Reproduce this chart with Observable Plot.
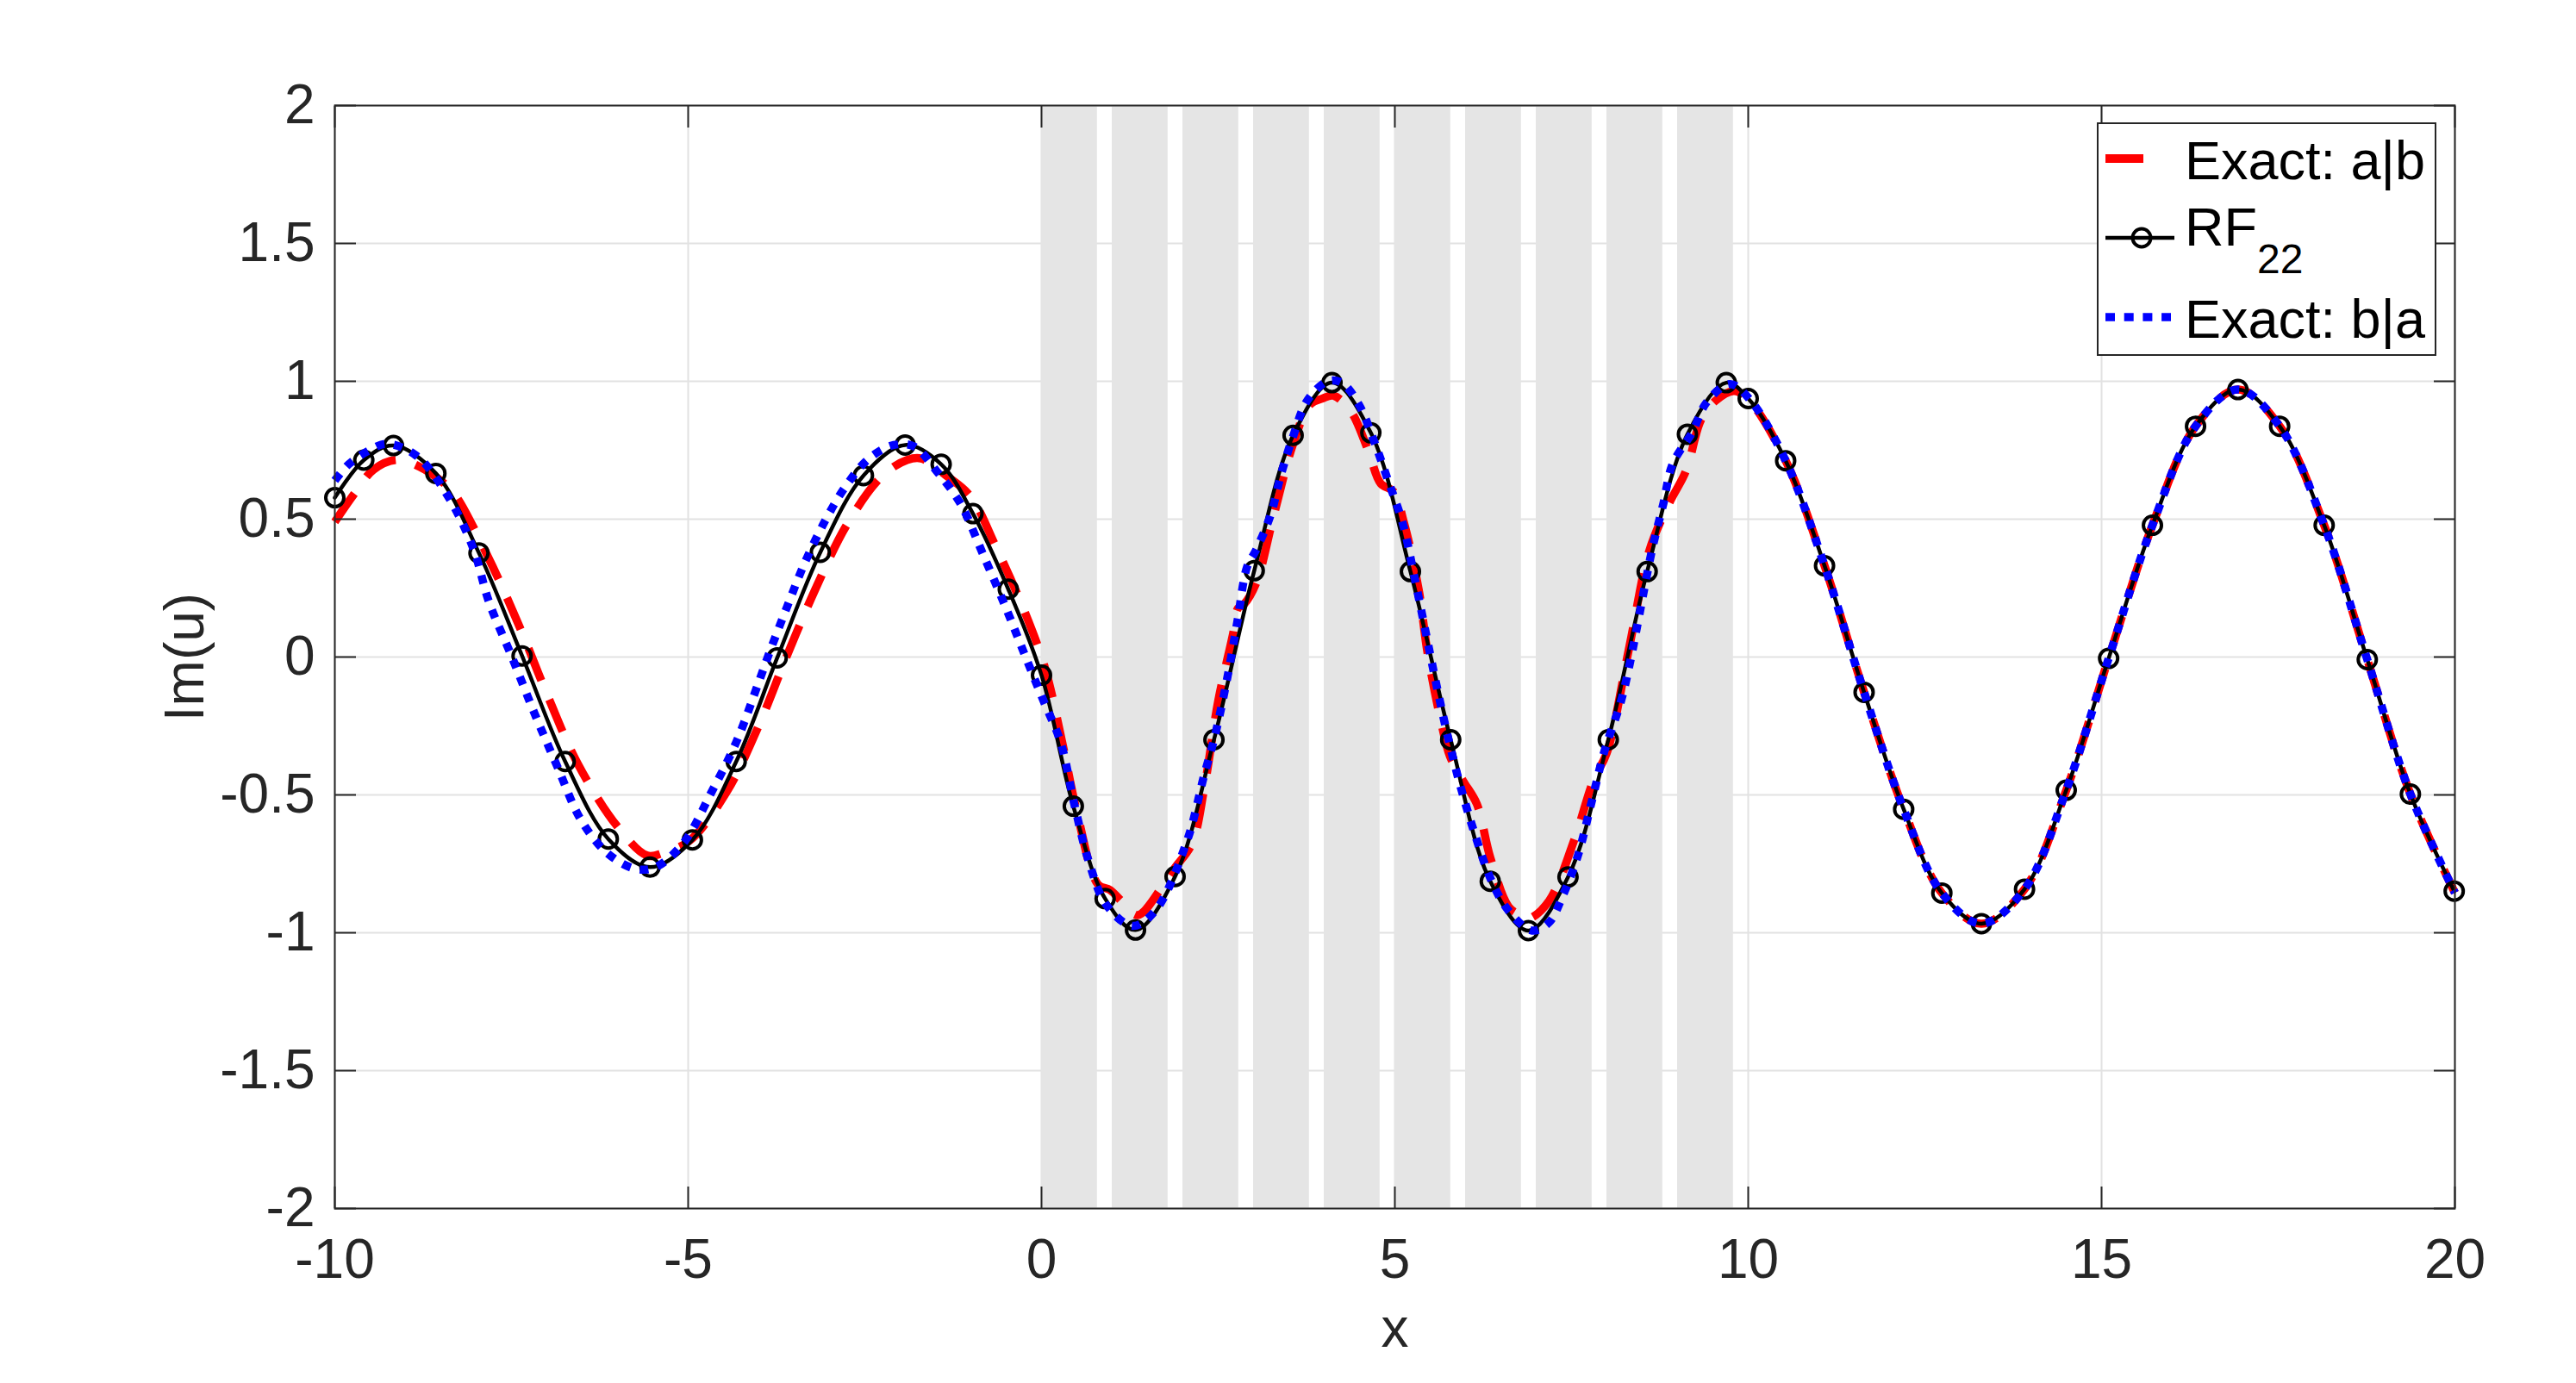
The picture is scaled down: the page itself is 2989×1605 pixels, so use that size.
<!DOCTYPE html>
<html>
<head>
<meta charset="utf-8">
<script src="https://cdn.jsdelivr.net/npm/d3@7"></script>
<script src="https://cdn.jsdelivr.net/npm/@observablehq/plot@0.6"></script>
<style>
  html, body { margin: 0; padding: 0; background: #fff; overflow: hidden; }
  #wrap { position: relative; width: 2989px; height: 1605px; font-family: "Liberation Sans", Arial, Helvetica, sans-serif; }
  #legend { position: absolute; left: 2433px; top: 142px; width: 394px; height: 271px; box-sizing: border-box; border: 2px solid #262626; background: #fff; }
  #legend svg { position: absolute; left: 0; top: 0; overflow: visible; }
</style>
</head>
<body>
<div id="wrap"></div>
<script>
// ---- tick values ----
const xTicks = [-10, -5, 0, 5, 10, 15, 20];
const yTicks = [-2, -1.5, -1, -0.5, 0, 0.5, 1, 1.5, 2];

// ---- shaded intervals ----
const bandStart = [0, 1, 2, 3, 4, 5, 6, 7, 8, 9];
const bandEnd   = [0.79, 1.79, 2.79, 3.79, 4.79, 5.79, 6.79, 7.79, 8.79, 9.79];

// ---- RF_22 (black line with circle markers) ----
const rfX = [-10.0, -9.59, -9.17, -8.57, -7.96, -7.35, -6.74, -6.13, -5.54, -4.94, -4.32, -3.74, -3.13, -2.52, -1.93, -1.42, -0.97, -0.47, 0.0, 0.45, 0.90, 1.33, 1.89, 2.44, 3.01, 3.56, 4.11, 4.66, 5.22, 5.79, 6.35, 6.89, 7.45, 8.02, 8.57, 9.14, 9.69, 10.0, 10.53, 11.08, 11.64, 12.2, 12.74, 13.3, 13.91, 14.5, 15.1, 15.72, 16.33, 16.93, 17.52, 18.15, 18.76, 19.37, 19.99];
const rfY = [0.578, 0.714, 0.767, 0.666, 0.377, 0.004, -0.379, -0.66, -0.762, -0.663, -0.379, -0.003, 0.38, 0.658, 0.769, 0.699, 0.52, 0.246, -0.066, -0.541, -0.876, -0.99, -0.796, -0.30, 0.313, 0.804, 0.995, 0.813, 0.31, -0.30, -0.813, -0.992, -0.798, -0.30, 0.31, 0.808, 0.995, 0.9375, 0.712, 0.331, -0.128, -0.552, -0.856, -0.967, -0.842, -0.483, -0.005, 0.478, 0.837, 0.97, 0.837, 0.478, -0.009, -0.497, -0.849];

// ---- Exact: a|b (red dashed) ----
const abX = [-10.0, -9.73, -9.45, -9.12, -8.8, -8.41, -8.27, -7.77, -7.37, -6.98, -6.56, -6.0, -5.58, -5.35, -4.98, -4.45, -4.0, -3.61, -3.2, -2.75, -2.25, -1.9, -1.7, -1.36, -1.01, -0.646, -0.232, 0.053, 0.29, 0.5, 0.80, 0.97, 1.15, 1.36, 1.71, 1.88, 2.13, 2.3, 2.5, 2.71, 2.78, 2.86, 3.04, 3.28, 3.56, 3.8, 3.97, 4.13, 4.37, 4.62, 4.8, 4.98, 5.13, 5.34, 5.46, 5.65, 5.78, 5.96, 6.16, 6.35, 6.61, 6.77, 6.89, 7.18, 7.54, 7.81, 8.0, 8.32, 8.6, 8.88, 9.09, 9.17, 9.33, 9.54, 9.8, 10.0, 10.53, 11.08, 11.64, 12.2, 12.74, 13.3, 13.91, 14.5, 15.1, 15.72, 16.33, 16.93, 17.52, 18.15, 18.76, 19.37, 20.0];
const abY = [0.49, 0.59, 0.68, 0.715, 0.69, 0.62, 0.578, 0.33, 0.10, -0.146, -0.388, -0.615, -0.72, -0.71, -0.666, -0.487, -0.248, 0.0, 0.246, 0.482, 0.658, 0.715, 0.72, 0.66, 0.584, 0.40, 0.16, -0.043, -0.306, -0.56, -0.825, -0.845, -0.89, -0.936, -0.832, -0.767, -0.676, -0.48, -0.16, 0.084, 0.177, 0.19, 0.27, 0.507, 0.773, 0.916, 0.937, 0.948, 0.894, 0.751, 0.629, 0.60, 0.486, 0.24, 0.019, -0.23, -0.36, -0.447, -0.533, -0.727, -0.906, -0.935, -0.949, -0.885, -0.662, -0.447, -0.347, 0.04, 0.385, 0.557, 0.658, 0.715, 0.859, 0.93, 0.965, 0.935, 0.712, 0.331, -0.128, -0.552, -0.856, -0.967, -0.842, -0.483, -0.005, 0.478, 0.837, 0.97, 0.837, 0.478, -0.009, -0.497, -0.855];

// ---- Exact: b|a (blue dotted) ----
const baX = [-10.0, -9.8, -9.51, -9.26, -8.85, -8.4, -8.04, -7.82, -7.5, -7.17, -6.85, -6.52, -6.15, -5.75, -5.46, -5.06, -4.69, -4.32, -4.0, -3.84, -3.59, -3.35, -3.06, -2.78, -2.45, -2.09, -1.8, -1.48, -1.15, -0.83, -0.5, -0.22, 0.024, 0.27, 0.47, 0.67, 0.92, 1.29, 1.61, 2.06, 2.3, 2.45, 2.63, 2.77, 2.91, 3.03, 3.24, 3.40, 3.56, 3.76, 4.05, 4.25, 4.49, 4.70, 4.90, 5.11, 5.27, 5.43, 5.59, 5.76, 5.92, 6.12, 6.37, 6.61, 6.94, 7.18, 7.38, 7.59, 7.79, 7.96, 8.2, 8.33, 8.44, 8.64, 8.8, 8.93, 9.21, 9.41, 9.74, 10.02, 10.53, 11.08, 11.64, 12.2, 12.74, 13.3, 13.91, 14.5, 15.1, 15.72, 16.33, 16.93, 17.52, 18.15, 18.76, 19.37, 20.0];
const baY = [0.64, 0.70, 0.75, 0.773, 0.731, 0.584, 0.393, 0.201, 0.004, -0.207, -0.398, -0.589, -0.71, -0.768, -0.762, -0.672, -0.50, -0.309, -0.09, 0.023, 0.189, 0.342, 0.495, 0.616, 0.718, 0.769, 0.763, 0.673, 0.558, 0.374, 0.176, -0.003, -0.156, -0.309, -0.54, -0.742, -0.9, -0.975, -0.92, -0.666, -0.43, -0.29, -0.074, 0.127, 0.328, 0.385, 0.514, 0.672, 0.80, 0.93, 1.0, 0.995, 0.916, 0.787, 0.643, 0.486, 0.299, 0.098, -0.103, -0.3, -0.461, -0.633, -0.813, -0.92, -0.992, -0.963, -0.863, -0.72, -0.519, -0.346, -0.16, -0.017, 0.127, 0.39, 0.557, 0.7, 0.816, 0.923, 0.99, 0.935, 0.712, 0.331, -0.128, -0.552, -0.856, -0.967, -0.842, -0.483, -0.005, 0.478, 0.837, 0.97, 0.837, 0.478, -0.009, -0.497, -0.855];

// ---- build tables for the library ----
const zip = (xs, ys) => xs.map((x, i) => ({x, y: ys[i]}));
const rf = zip(rfX, rfY);
const ab = zip(abX, abY);
const ba = zip(baX, baY);
const bands = bandStart.map((s, i) => ({s, e: bandEnd[i]}));

const fmt = d => String(d);
const axisColor = "#262626";
const font = "'Liberation Sans', Arial, Helvetica, sans-serif";

const chart = Plot.plot({
  width: 2989,
  height: 1605,
  marginLeft: 388,
  marginRight: 141,
  marginTop: 122,
  marginBottom: 203,
  x: {domain: [-10, 20]},
  y: {domain: [-2, 2]},
  style: {fontSize: "64px", fontFamily: font, background: "#fff", color: axisColor, overflow: "visible"},
  marks: [
    Plot.gridX(xTicks, {stroke: "#e2e2e2", strokeOpacity: 1, strokeWidth: 2}),
    Plot.gridY(yTicks, {stroke: "#e2e2e2", strokeOpacity: 1, strokeWidth: 2}),
    Plot.rect(bands, {x1: "s", x2: "e", fill: "#e5e5e5"}),
    Plot.line(ab, {x: "x", y: "y", stroke: "#ff0000", strokeWidth: 9.5, strokeDasharray: "40,24", strokeLinecap: "butt", curve: "catmull-rom"}),
    Plot.line(rf, {x: "x", y: "y", stroke: "#000", strokeWidth: 4.5, curve: "catmull-rom"}),
    Plot.dot(rf, {x: "x", y: "y", r: 10.5, stroke: "#000", strokeWidth: 4, fill: "none"}),
    Plot.line(ba, {x: "x", y: "y", stroke: "#0000ff", strokeWidth: 9.5, strokeDasharray: "10,11", strokeLinecap: "butt", curve: "catmull-rom"}),
    Plot.frame({stroke: axisColor, strokeWidth: 2}),
    Plot.axisX(xTicks, {anchor: "bottom", tickSize: -25, tickPadding: 60, tickFormat: fmt, label: null, color: axisColor, strokeWidth: 2}),
    Plot.axisX(xTicks, {anchor: "top", tickSize: -25, tickFormat: () => "", label: null, color: axisColor, strokeWidth: 2}),
    Plot.axisY(yTicks, {anchor: "left", tickSize: -25, tickPadding: 48, tickFormat: fmt, label: null, color: axisColor, strokeWidth: 2}),
    Plot.axisY(yTicks, {anchor: "right", tickSize: -25, tickFormat: () => "", label: null, color: axisColor, strokeWidth: 2}),
    Plot.text(["x"], {text: d => d, frameAnchor: "bottom", dy: 160, lineAnchor: "bottom", fontSize: 64, fill: axisColor}),
    Plot.text(["Im(u)"], {text: d => d, frameAnchor: "left", dx: -173, rotate: -90, textAnchor: "middle", lineAnchor: "middle", fontSize: 64, fill: axisColor})
  ]
});

const wrap = document.getElementById("wrap");
wrap.appendChild(chart);

// ---- legend ----
const legendEntries = ["Exact: a|b", "RF", "Exact: b|a"];
const legend = document.createElement("div");
legend.id = "legend";
legend.innerHTML = `
<svg width="390" height="267" xmlns="http://www.w3.org/2000/svg" font-family="${font}">
  <line x1="8" x2="52" y1="40" y2="40" stroke="#ff0000" stroke-width="10"/>
  <line x1="8" x2="88" y1="132" y2="132" stroke="#000" stroke-width="4.5"/>
  <circle cx="50" cy="132" r="10.5" fill="none" stroke="#000" stroke-width="4"/>
  <line x1="8" x2="84" y1="224" y2="224" stroke="#0000ff" stroke-width="9.5" stroke-dasharray="11,10.7"/>
  <text x="100" y="64" font-size="63" fill="#000">${legendEntries[0]}</text>
  <text x="100" y="141" font-size="63" fill="#000">${legendEntries[1]}<tspan font-size="48" dy="32">22</tspan></text>
  <text x="100" y="248" font-size="63" fill="#000">${legendEntries[2]}</text>
</svg>`;
wrap.appendChild(legend);
</script>
</body>
</html>
